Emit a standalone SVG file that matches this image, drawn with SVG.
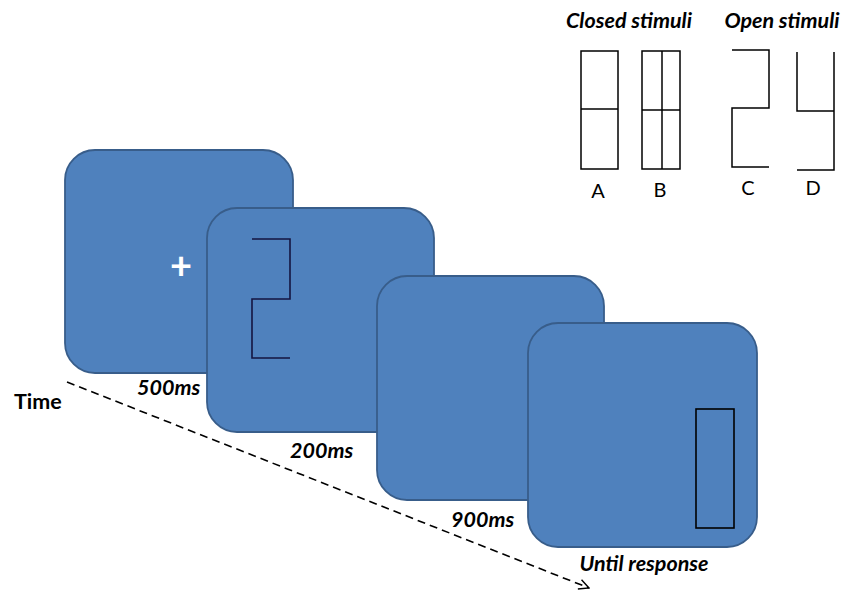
<svg xmlns="http://www.w3.org/2000/svg" width="846" height="596" viewBox="0 0 846 596">
<defs>
<style>
.screen{fill:#4F81BD;stroke:#385D8A;stroke-width:1.8}
.stim{fill:none;stroke:#000;stroke-width:1.5}
.navy{fill:none;stroke:#151540;stroke-width:1.6}
.lbl{font-family:Lato,"Liberation Sans",sans-serif;font-weight:bold;font-style:italic;font-size:21.5px;fill:#000}
.letter{font-family:Lato,"Liberation Sans",sans-serif;font-size:20px;fill:#000;text-anchor:middle}
</style>
<marker id="open" viewBox="0 0 12 12" refX="11" refY="6" markerWidth="12" markerHeight="12" markerUnits="userSpaceOnUse" orient="auto">
<path d="M1,1 L11,6 L1,11" fill="none" stroke="#000" stroke-width="1.4"/>
</marker>
</defs>

<g id="connectors">
<line x1="67" y1="382" x2="589" y2="588" stroke="#000" stroke-width="1.6" stroke-dasharray="8,5" marker-end="url(#open)"/>
</g>

<g id="screen1">
<rect class="screen" x="65" y="150" width="228" height="223" rx="30"/>
<text x="181" y="279" font-family="Lato,'Liberation Sans',sans-serif" font-weight="bold" font-size="38" fill="#fff" text-anchor="middle">+</text>
</g>

<g id="screen2">
<rect class="screen" x="207" y="208" width="227" height="224" rx="30"/>
<path class="navy" d="M252,239 H290 V299 H252 V358 H290"/>
</g>

<g id="screen3">
<rect class="screen" x="377" y="276" width="227" height="224" rx="30"/>
</g>

<g id="screen4">
<rect class="screen" x="528" y="323" width="229" height="224" rx="30"/>
<rect class="navy" x="696" y="409" width="38" height="119" style="stroke:#000"/>
</g>

<g id="labels">
<text class="lbl" x="14" y="409" style="font-style:normal">Time</text>
<text class="lbl" x="137" y="395">500ms</text>
<text class="lbl" x="290" y="458">200ms</text>
<text class="lbl" x="451" y="527">900ms</text>
<text class="lbl" x="644" y="571" text-anchor="middle">Until response</text>
</g>

<g id="stimuli">
<text class="lbl" x="629" y="28" text-anchor="middle">Closed stimuli</text>
<text class="lbl" x="782" y="28" text-anchor="middle">Open stimuli</text>
<g id="stimA">
<rect class="stim" x="581" y="51" width="37" height="118"/>
<line class="stim" x1="581" y1="109" x2="618" y2="109"/>
<text class="letter" x="598" y="198">A</text>
</g>
<g id="stimB">
<rect class="stim" x="642" y="51" width="38" height="118"/>
<line class="stim" x1="642" y1="110" x2="680" y2="110"/>
<line class="stim" x1="662" y1="51" x2="662" y2="169"/>
<text class="letter" x="660" y="197">B</text>
</g>
<g id="stimC">
<path class="stim" d="M732,50 H769 V108 H732 V167 H769"/>
<text class="letter" x="748" y="195">C</text>
</g>
<g id="stimD">
<path class="stim" d="M797,52 V111 H834 V170 H797 M834,111 V52"/>
<text class="letter" x="813" y="195">D</text>
</g>
</g>
</svg>
